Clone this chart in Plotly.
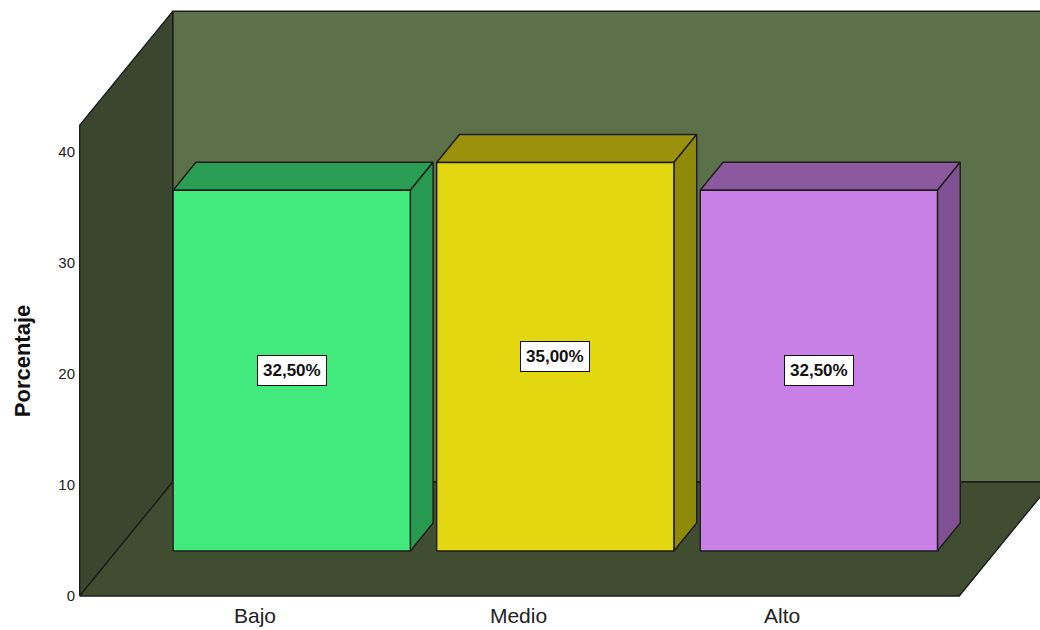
import plotly.graph_objects as go

# Data
categories = ["Bajo", "Medio", "Alto"]
values = [32.5, 35.0, 32.5]
y_ticks = [0, 10, 20, 30, 40]

# Colours per category: front face, top face, side face
front_colors = ["#42EA7D", "#E3D80F", "#C980E6"]
top_colors = ["#2B9E55", "#9B910B", "#8D599E"]
side_colors = ["#289A50", "#908A0A", "#7F5192"]

# 3D frame geometry (in axis units)
WALL_H = 42.4            # height of the walls
DX, DY = 0.353, 10.27    # depth vector of the box (x in category units, y in %)
X0, X1 = -0.665, 2.672   # floor front edge
BAR_HALF = 0.45          # half bar width
F0, F1 = 0.395, 0.64     # bar front / back depth fractions

EDGE = dict(color="#1c1c1c", width=1.4)

fig = go.Figure()


def poly(xs, ys, fill):
    fig.add_trace(go.Scatter(
        x=list(xs) + [xs[0]], y=list(ys) + [ys[0]],
        mode="lines", fill="toself", fillcolor=fill,
        line=EDGE, hoverinfo="skip", showlegend=False,
    ))


# Back wall, left wall, floor
poly([X0 + DX, X0 + DX, X1 + DX, X1 + DX],
     [DY, WALL_H + DY, WALL_H + DY, DY], "#5C704A")
poly([X0, X0, X0 + DX, X0 + DX],
     [0, WALL_H, WALL_H + DY, DY], "#3B462F")
poly([X0, X1, X1 + DX, X0 + DX],
     [0, 0, DY, DY], "#404D31")

# Bars as boxes
for i, (cat, v) in enumerate(zip(categories, values)):
    xl = i - BAR_HALF + F0 * DX
    xr = i + BAR_HALF + F0 * DX
    yb = F0 * DY
    yt = yb + v
    ddx = (F1 - F0) * DX
    ddy = (F1 - F0) * DY
    # top face
    poly([xl, xr, xr + ddx, xl + ddx], [yt, yt, yt + ddy, yt + ddy], top_colors[i])
    # side face
    poly([xr, xr + ddx, xr + ddx, xr], [yb, yb + ddy, yt + ddy, yt], side_colors[i])
    # front face
    poly([xl, xr, xr, xl], [yb, yb, yt, yt], front_colors[i])
    # value label
    fig.add_annotation(
        x=(xl + xr) / 2, y=(yb + yt) / 2, xref="x", yref="y",
        text=f"{v:.2f}".replace(".", ",") + "%",
        showarrow=False, bgcolor="white", bordercolor="#111111",
        borderwidth=1, borderpad=5,
        font=dict(family="Liberation Sans, Arial", size=17, color="#111111",
                  weight="bold"),
    )

# Axis title
fig.add_annotation(
    x=-0.0705, y=WALL_H / 2, xref="paper", yref="y",
    text="<b>Porcentaje</b>", textangle=-90, showarrow=False,
    font=dict(family="Liberation Sans, Arial", size=22, color="#111111"),
)

fig.update_layout(
    width=1040, height=630,
    margin=dict(l=76, r=0, t=0, b=30),
    paper_bgcolor="white", plot_bgcolor="rgba(0,0,0,0)",
    showlegend=False,
    xaxis=dict(
        range=[-0.679, 2.9785], tickvals=[0, 1, 2], ticktext=categories,
        showgrid=False, zeroline=False, showline=False, ticks="",
        ticklabelstandoff=1, automargin=False,
        tickfont=dict(family="Liberation Sans, Arial", size=21, color="#222222"),
        fixedrange=True,
    ),
    yaxis=dict(
        range=[-0.36, 53.69], tickvals=y_ticks,
        showgrid=False, zeroline=False, showline=False, ticks="",
        automargin=False,
        tickfont=dict(family="Liberation Sans, Arial", size=15, color="#222222"),
        fixedrange=True,
    ),
)

fig.write_html("out.html")
